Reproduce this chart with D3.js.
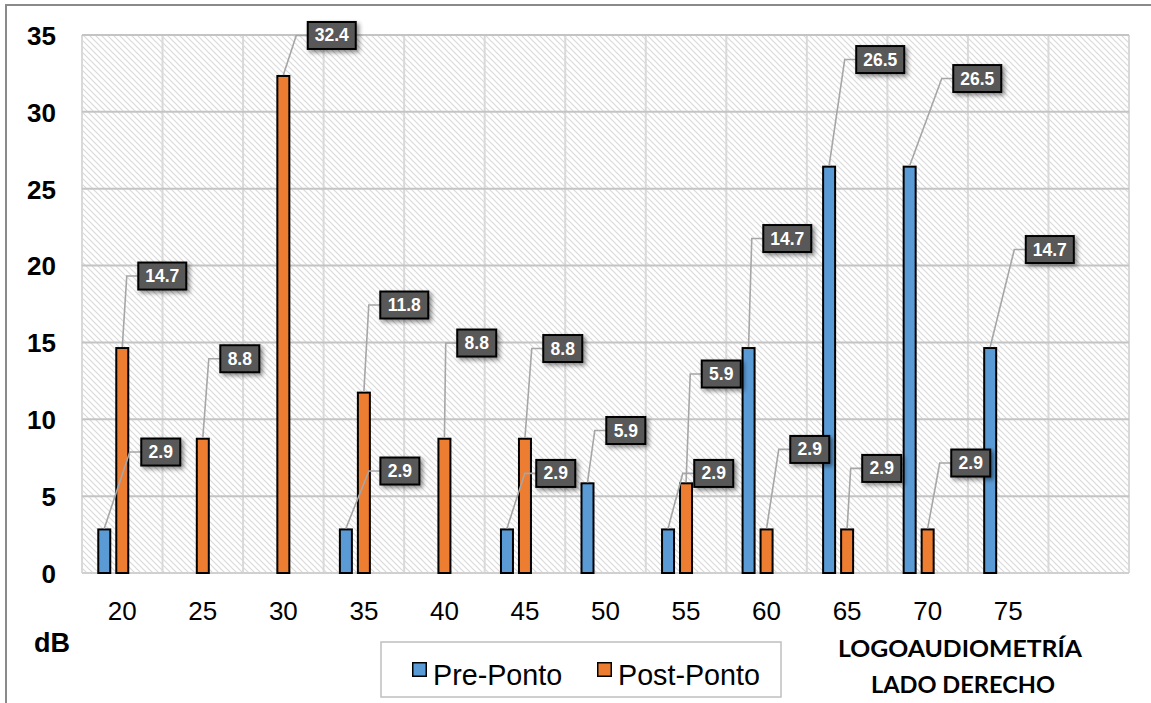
<!DOCTYPE html>
<html>
<head>
<meta charset="utf-8">
<script src="https://cdn.jsdelivr.net/npm/d3@7"></script>
<style>
  html, body { margin: 0; padding: 0; background: #fff; }
  svg { display: block; }
</style>
</head>
<body>
<svg id="chart" width="1151" height="703"></svg>
<script>
// ---- data ----
const categories = ["20", "25", "30", "35", "40", "45", "50", "55", "60", "65", "70", "75", ""];
const seriesNames = ["Pre-Ponto", "Post-Ponto"];
const preValues  = [2.9, 0, 0, 2.9, 0, 2.9, 5.9, 2.9, 14.7, 26.5, 26.5, 14.7, null];
const postValues = [14.7, 8.8, 32.4, 11.8, 8.8, 8.8, 0, 5.9, 2.9, 2.9, 2.9, 0, null];
const yTicks = [0, 5, 10, 15, 20, 25, 30, 35];
const yUnit = "dB";
const xTitleLines = ["LOGOAUDIOMETRÍA", "LADO DERECHO"];
// label box nudges (px, relative to bar top) as placed in the original
const labelNudgePre  = [[56.5,-76.4], null, null, [54,-57.4], null, [48.8,-55], [38.3,-51.8], [45.7,-55], [38.7,-108.5], [51.1,-106.1], [67.6,-87.1], [59.6,-97.5], null];
const labelNudgePost = [[40,-71], [37,-79], [48.4,-39.5], [40.4,-86.6], [32.3,-94.7], [37.8,-89.2], null, [35.2,-108.3], [43.2,-79], [34.6,-60], [43.1,-65.4], null, null];

const colors = { pre: "#5B9BD5", post: "#ED7D31" };
const FONT = "'Liberation Sans', Arial, sans-serif";

const svg = d3.select("#chart");
const defs = svg.append("defs");

// hatch pattern
const pat = defs.append("pattern").attr("id", "hatch").attr("patternUnits", "userSpaceOnUse")
  .attr("width", 6).attr("height", 6);
pat.append("rect").attr("width", 6).attr("height", 6).attr("fill", "#fff");
pat.append("path").attr("d", "M-1,-1 L7,7 M-1,5 L1,7 M5,-1 L7,1")
  .attr("stroke", "#dadada").attr("stroke-width", 1.2);

// drop shadow
const f = defs.append("filter").attr("id", "shadow").attr("x", "-30%").attr("y", "-30%").attr("width", "160%").attr("height", "180%");
f.append("feDropShadow").attr("dx", 2.5).attr("dy", 2.5).attr("stdDeviation", 2)
  .attr("flood-color", "#000").attr("flood-opacity", 0.45);

// outer chart frame
svg.append("rect").attr("x", 6).attr("y", 5).attr("width", 1160).attr("height", 720)
  .attr("fill", "none").attr("stroke", "#8a8a8a").attr("stroke-width", 2);

const plot = { left: 82, right: 1129, top: 35, bottom: 573 };

const y = d3.scaleLinear().domain([0, 35]).range([plot.bottom, plot.top]);
const x0 = d3.scaleBand().domain(categories).range([plot.left, plot.right]).padding(0);
const bw = x0.bandwidth();
const x1 = d3.scaleBand().domain(["pre", "post", "gap"]).range([bw / 2 - 27, bw / 2 + 27])
  .paddingInner(4 / 18).paddingOuter(2 / 18);

// plot background
svg.append("rect").attr("x", plot.left).attr("y", plot.top)
  .attr("width", plot.right - plot.left).attr("height", plot.bottom - plot.top)
  .attr("fill", "url(#hatch)");

// vertical grid lines (category boundaries)
const vBounds = categories.map(c => x0(c)).concat([plot.right]);
svg.append("g").selectAll("line").data(vBounds).join("line")
  .attr("x1", d => d).attr("x2", d => d).attr("y1", plot.top).attr("y2", plot.bottom)
  .attr("stroke", "#d9d9d9").attr("stroke-width", 2);

// horizontal grid lines
svg.append("g").selectAll("line").data(yTicks).join("line")
  .attr("x1", plot.left).attr("x2", plot.right).attr("y1", d => y(d)).attr("y2", d => y(d))
  .attr("stroke", d => d === 0 ? "#d0d0d0" : "#c4c4c4").attr("stroke-width", 2);

// y axis labels
const yAxis = d3.axisLeft(y).tickValues(yTicks).tickSize(0).tickPadding(0);
const yg = svg.append("g").attr("transform", "translate(56,0)").call(yAxis);
yg.select(".domain").remove();
yg.selectAll("text").attr("font-family", FONT).attr("font-weight", "bold")
  .attr("font-size", 26).attr("fill", "#000").attr("dy", "0.36em");

// x axis labels
const xAxis = d3.axisBottom(x0).tickSize(0).tickPadding(0);
const xg = svg.append("g").attr("transform", "translate(0,620)").call(xAxis);
xg.select(".domain").remove();
xg.selectAll("text").attr("font-family", FONT).attr("font-size", 26).attr("fill", "#000")
  .attr("dy", 0).attr("y", 0);

// bars
const barData = [];
categories.forEach((c, i) => {
  [["pre", preValues[i], labelNudgePre[i]], ["post", postValues[i], labelNudgePost[i]]].forEach(([k, v, n]) => {
    if (v != null && v > 0) barData.push({ c, k, v, n });
  });
});
svg.append("g").selectAll("rect").data(barData).join("rect")
  .attr("x", d => x0(d.c) + x1(d.k) + 1)
  .attr("width", x1.bandwidth() - 2)
  .attr("y", d => y(d.v) + 1)
  .attr("height", d => y(0) - y(d.v) - 1)
  .attr("fill", d => colors[d.k]).attr("stroke", "#000").attr("stroke-width", 2);

// data labels with leader lines
const lg = svg.append("g");
barData.filter(d => d.n).forEach(d => {
  const cx = x0(d.c) + x1(d.k) + x1.bandwidth() / 2;
  const ty = y(d.v);
  const bcx = cx + d.n[0], bcy = ty + d.n[1];
  const txt = d3.format(".1f")(d.v);
  const w = txt.length === 3 ? 39 : 48, h = 27;
  const left = bcx - w / 2;
  lg.append("path")
    .attr("d", `M${cx},${ty} L${left - 11.5},${bcy} L${left},${bcy}`)
    .attr("fill", "none").attr("stroke", "#a6a6a6").attr("stroke-width", 1.6);
  lg.append("rect").attr("x", left).attr("y", bcy - h / 2).attr("width", w).attr("height", h)
    .attr("fill", "#595959").attr("stroke", "#000").attr("stroke-width", 2)
    .attr("filter", "url(#shadow)");
  lg.append("text").attr("x", bcx).attr("y", bcy + 6).attr("text-anchor", "middle")
    .attr("font-family", FONT).attr("font-weight", "bold").attr("font-size", 17.5)
    .attr("fill", "#fff").text(txt);
});

// unit label
svg.append("text").attr("x", 52).attr("y", 652).attr("text-anchor", "middle")
  .attr("font-family", FONT).attr("font-weight", "bold").attr("font-size", 27).text(yUnit);

// legend
svg.append("rect").attr("x", 381).attr("y", 642).attr("width", 400).attr("height", 55)
  .attr("fill", "#fff").attr("stroke", "#bfbfbf").attr("stroke-width", 1.5);
const legItems = [
  { name: seriesNames[0], color: colors.pre, x: 412 },
  { name: seriesNames[1], color: colors.post, x: 597 }
];
legItems.forEach(it => {
  svg.append("rect").attr("x", it.x + 0.75).attr("y", 662.75).attr("width", 13.5).attr("height", 13.5)
    .attr("fill", it.color).attr("stroke", "#000").attr("stroke-width", 1.5);
  svg.append("text").attr("x", it.x + 21).attr("y", 685)
    .attr("font-family", FONT).attr("font-size", 28.7).attr("fill", "#000").text(it.name);
});

// axis title (bottom right)
const tt = svg.append("g");
tt.append("text").attr("x", 960).attr("y", 657).attr("text-anchor", "middle")
  .attr("font-family", "Lato, 'Open Sans', sans-serif").attr("font-weight", "bold").attr("font-size", 22)
  .attr("textLength", 244).attr("lengthAdjust", "spacingAndGlyphs").text(xTitleLines[0]);
tt.append("text").attr("x", 963).attr("y", 693).attr("text-anchor", "middle")
  .attr("font-family", "Lato, 'Open Sans', sans-serif").attr("font-weight", "bold").attr("font-size", 22)
  .attr("textLength", 184).attr("lengthAdjust", "spacingAndGlyphs").text(xTitleLines[1]);
</script>
</body>
</html>
